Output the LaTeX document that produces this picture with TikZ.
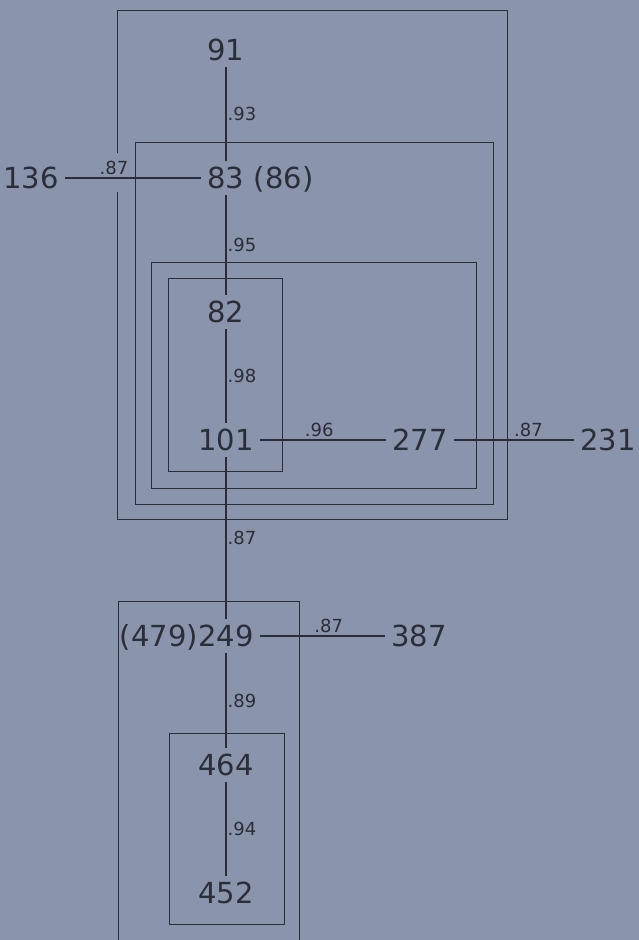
\documentclass[tikz,border=0pt]{standalone}
\usepackage{fontspec}
\setmainfont{DejaVu Sans}
\definecolor{bg}{RGB}{138,148,170}
\definecolor{ink}{RGB}{42,46,58}
\tikzset{
  num/.style={font=\fontsize{29}{29}\selectfont, text=ink, text height=21pt, text depth=0pt, inner xsep=6pt, inner ysep=6pt},
  plain/.style={font=\fontsize{29}{29}\selectfont, text=ink, text height=21pt, text depth=0pt, inner sep=0pt},
  lab/.style={font=\fontsize{18}{18}\selectfont, text=ink, text height=13pt, text depth=0pt, inner sep=0pt},
  hlab/.style={lab, above=3pt},
  vlab/.style={lab, right=1pt},
  conn/.style={draw=ink, line width=1.3pt},
  frame/.style={draw=ink, line width=1pt}
}
\begin{document}
\begin{tikzpicture}[x=1pt,y=-1pt]
\fill[bg] (0,0) rectangle (639,940);
\useasboundingbox (0,0) rectangle (639,940);
% frames
\draw[frame] (117,153) -- (117,10) -- (507,10) -- (507,519) -- (117,519) -- (117,192);
\draw[frame] (135,142) rectangle (493,504);
\draw[frame] (151,262) rectangle (476,488);
\draw[frame] (168,278) rectangle (282,471);
\draw[frame] (118,945) -- (118,601) -- (299,601) -- (299,945);
\draw[frame] (169,733) rectangle (284,924);
% nodes
\node[num] (n91) at (226,50) {91};
\node[num] (n83) at (226,178) {83};
\node[plain, anchor=west] (n86) at ([xshift=3pt]n83.east) {(86)};
\node[num] (n136) at (31,178) {136};
\node[num] (n82) at (226,312) {82};
\node[num] (n101) at (226,440) {101};
\node[num] (n277) at (420,440) {277};
\node[num] (n231) at (608,440) {231};
\node[num] (n249) at (226,636) {249};
\node[plain, anchor=east] (n479) at ([xshift=6pt]n249.west) {(479)};
\node[num] (n387) at (419,636) {387};
\node[num] (n464) at (226,765) {464};
\node[num] (n452) at (226,893) {452};
% connectors
\draw[conn] (n91) -- node[vlab] {.93} (n83);
\draw[conn] (n136) -- node[hlab, pos=0.36] {.87} (n83);
\draw[conn] (n83) -- node[vlab] {.95} (n82);
\draw[conn] (n82) -- node[vlab] {.98} (n101);
\draw[conn] (n101) -- node[hlab, pos=0.47] {.96} (n277);
\draw[conn] (n277) -- node[hlab, pos=0.62] {.87} (n231);
\draw[conn] (n101) -- node[vlab] {.87} (n249);
\draw[conn] (n249) -- node[hlab, pos=0.55] {.87} (n387);
\draw[conn] (n249) -- node[vlab] {.89} (n464);
\draw[conn] (n464) -- node[vlab] {.94} (n452);
\end{tikzpicture}
\end{document}
